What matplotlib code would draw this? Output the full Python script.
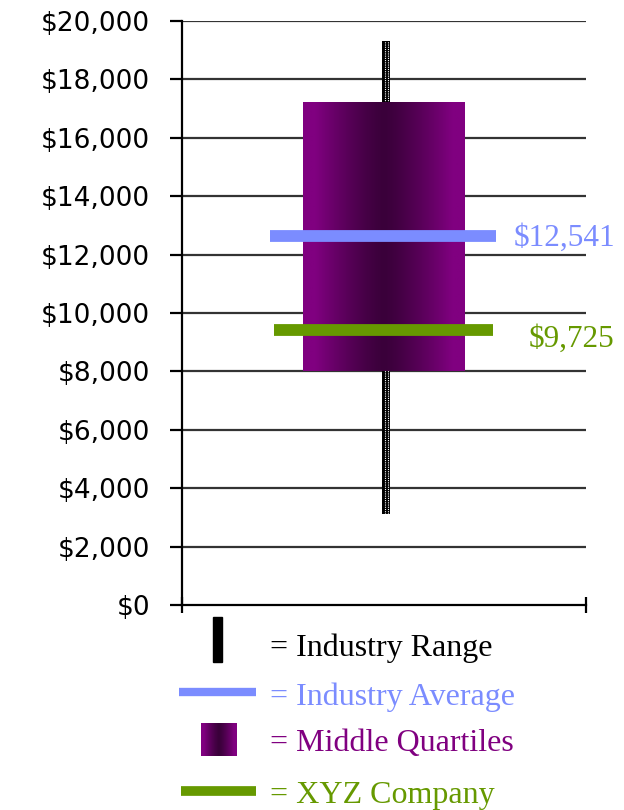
import matplotlib
matplotlib.use('Agg')
import matplotlib.pyplot as plt
import numpy as np
from matplotlib.ticker import FuncFormatter

# Values
range_vals = [3100, 19300]       # industry range (low, high)
quartile_vals = [8000, 17200]    # middle quartiles (Q1, Q3)
avg_value = 12650                # industry average line as drawn
company_value = 9420             # XYZ company line as drawn
avg_label = '$12,541'
company_label = '$9,725'
y_ticks = list(range(0, 20001, 2000))

legend_labels = ['= Industry Range', '= Industry Average',
                 '= Middle Quartiles', '= XYZ Company']

purple = '#800080'
dark_purple = '#3a003a'
blue = '#7b8cff'
green = '#669900'

W, H = 624, 810
fig = plt.figure(figsize=(W / 100, H / 100), dpi=100)
ax = fig.add_axes([182 / W, 1 - 605 / H, (586 - 182) / W, (605 - 21) / H])

ax.set_xlim(0, 1)
ax.set_ylim(0, 20000)

# gridlines
for v in y_ticks[1:]:
    ax.axhline(v, color='#333333', lw=1.6, zorder=1)

# industry range (whisker) - black bar with white dotted stripes, behind the box
bw = 8 / 404
ax.bar(0.505, range_vals[1] - range_vals[0], bottom=range_vals[0], width=bw,
       color='black', zorder=2)
for dx in (-1.5 / 404, 1.5 / 404):
    ax.plot([0.505 + dx] * 2, range_vals, color='white', lw=0.8,
            linestyle=(0, (1, 1)), zorder=2.5)

# middle quartiles box with horizontal gradient
light = np.array(matplotlib.colors.to_rgb(purple))
dark = np.array(matplotlib.colors.to_rgb(dark_purple))
t = np.abs(np.linspace(-1, 1, 200))
w = np.clip(t / 0.85, 0, 1) ** 1.3
grad = dark[None, :] + (light - dark)[None, :] * w[:, None]
ax.imshow(grad[None, :, :], extent=[0.3, 0.7, quartile_vals[0], quartile_vals[1]],
          aspect='auto', zorder=3, interpolation='bilinear')
ax.set_xlim(0, 1)
ax.set_ylim(0, 20000)

# average and company lines
ax.plot([0.218, 0.777], [avg_value] * 2, color=blue, lw=8.5, solid_capstyle='butt', zorder=5)
ax.plot([0.228, 0.770], [company_value] * 2, color=green, lw=8.5, solid_capstyle='butt', zorder=5)
ax.text(0.82, avg_value - 100, avg_label, color=blue, fontsize=22.5,
        family='Liberation Serif', va='center', ha='left', zorder=6, clip_on=False)
ax.text(0.858, company_value - 320, company_label, color=green, fontsize=22.5,
        family='Liberation Serif', va='center', ha='left', zorder=6, clip_on=False)

# axes styling
for s in ('top', 'right'):
    ax.spines[s].set_visible(False)
for s in ('left', 'bottom'):
    ax.spines[s].set_linewidth(1.6)
    ax.spines[s].set_zorder(7)
ax.set_yticks(y_ticks)
ax.yaxis.set_major_formatter(FuncFormatter(lambda v, p: f'${v:,.0f}'))
ax.tick_params(axis='y', direction='out', length=9, width=1.6, pad=14,
               labelsize=19, labelfontfamily='DejaVu Sans')
ax.set_xticks([0, 1])
ax.set_xticklabels([])
ax.tick_params(axis='x', direction='inout', length=11, width=1.6)

# legend drawn in figure pixel space
lax = fig.add_axes([0, 0, 1, 1], zorder=-1)
lax.axis('off')
lax.add_patch(plt.Rectangle((213, 617), 9, 45, color='black'))
lax.plot([179, 256], [692, 692], color=blue, lw=6, solid_capstyle='butt')
sq = np.abs(np.linspace(-1, 1, 60))
sqw = np.clip(sq / 0.85, 0, 1) ** 1.3
lax.imshow((dark[None, :] + (light - dark)[None, :] * sqw[:, None])[None, :, :],
           extent=[201, 237, 756, 723], aspect='auto', interpolation='bilinear')
lax.plot([181, 256], [791, 791], color=green, lw=7, solid_capstyle='butt')
lax.set_xlim(0, W)
lax.set_ylim(H, 0)

text_colors = ['black', blue, purple, green]
text_y = [648, 697, 744, 795]
for lab, c, y in zip(legend_labels, text_colors, text_y):
    lax.text(270, y, lab, color=c, fontsize=23, family='Liberation Serif',
             va='center', ha='left')

fig.savefig('out.png', dpi=100)
